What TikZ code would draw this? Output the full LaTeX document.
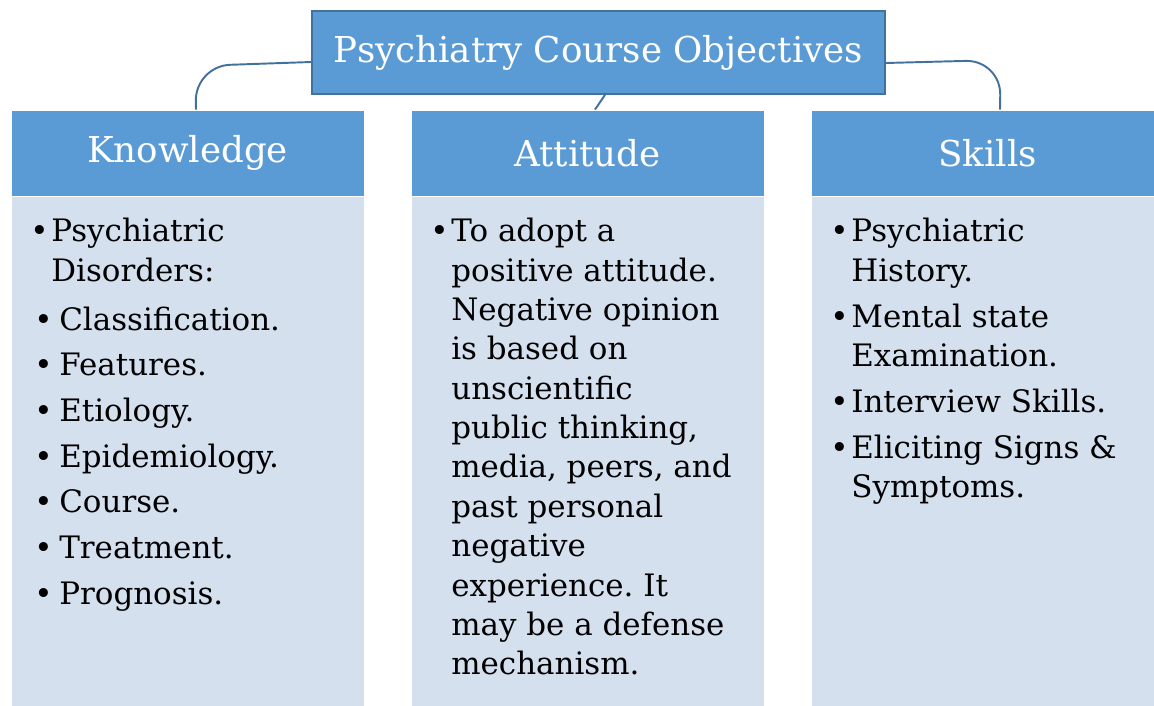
\documentclass[tikz,border=0pt]{standalone}
\usepackage{fontspec}
\setmainfont{DejaVu Serif}
\usepackage{tikz}
\frenchspacing

\definecolor{headblue}{HTML}{5B9BD5}
\definecolor{edgeblue}{HTML}{41719C}
\definecolor{paleblue}{HTML}{D5E0EE}

% bullet with hanging indent
\newcommand{\bul}{\makebox[0.42cm][l]{\textbullet}}
\newcommand{\hng}{\hspace*{0.42cm}}
\newcommand{\subbul}{\hspace*{0.08cm}\makebox[0.5cm][l]{\textbullet}}

\begin{document}
\begin{tikzpicture}[x=0.02cm, y=-0.02cm,
        headbox/.style={rectangle, fill=headblue, draw=white, line width=0.5pt,
            minimum width=7.06cm, minimum height=1.72cm, inner sep=0pt,
            text=white, font=\fontsize{20.3}{24}\selectfont},
        bodybox/.style={rectangle, fill=paleblue, draw=white, line width=0.5pt,
            minimum width=7.06cm, minimum height=10.2cm, inner sep=0pt},
        bodytext/.style={anchor=north west, align=left, inner sep=0pt,
            font=\fontsize{17.6}{22.4}\selectfont},
        link/.style={draw=edgeblue, line width=1.1pt, rounded corners=0.7cm}]
        \useasboundingbox (0,0) rectangle (1154,706);

        \node[headbox, draw=edgeblue, line width=1pt, minimum width=11.46cm,
            minimum height=1.66cm] (title) at (598.5, 52.5) {Psychiatry Course Objectives};

        \node[bodybox] (knowbody) at (187.5, 451) {};
        \node[headbox] (knowhead) at (187.5, 153) {Knowledge};
        \node[bodybox] (attbody) at (587.5, 451) {};
        \node[headbox] (atthead) at (587.5, 153) {Attitude};
        \node[bodybox] (skillbody) at (987.5, 451) {};
        \node[headbox] (skillhead) at (987.5, 153) {Skills};

        \draw[link] ([yshift=-0.19cm]title.west) -- ++(-116, 4) -- ([xshift=0.17cm]knowhead.north);
        \draw[link] ([yshift=-0.21cm]title.east) -- ++(115, -3) -- ([xshift=0.25cm]skillhead.north);
        \draw[link] ([xshift=0.13cm]title.south) -- ([xshift=0.15cm]atthead.north);

        \node[bodytext] (knowlist) at (30, 218) {%
            \bul Psychiatric\\
            \hng Disorders:\\[5.5pt]
            \subbul Classification.\\[3.6pt]
            \subbul Features.\\[3.6pt]
            \subbul Etiology.\\[3.6pt]
            \subbul Epidemiology.\\[3.6pt]
            \subbul Course.\\[3.6pt]
            \subbul Treatment.\\[3.6pt]
            \subbul Prognosis.};
        \node[bodytext] (attlist) at (430, 218) {%
            \bul To adopt a\\
            \hng positive attitude.\\
            \hng Negative opinion\\
            \hng is based on\\
            \hng unscientific\\
            \hng public thinking,\\
            \hng media, peers, and\\
            \hng past personal\\
            \hng negative\\
            \hng experience. It\\
            \hng may be a defense\\
            \hng mechanism.};
        \node[bodytext] (skilllist) at (830, 218) {%
            \bul Psychiatric\\
            \hng History.\\[3.9pt]
            \bul Mental state\\
            \hng Examination.\\[3.6pt]
            \bul Interview Skills.\\[3.6pt]
            \bul Eliciting Signs \&\\
            \hng Symptoms.};
    \end{tikzpicture}
\end{document}
